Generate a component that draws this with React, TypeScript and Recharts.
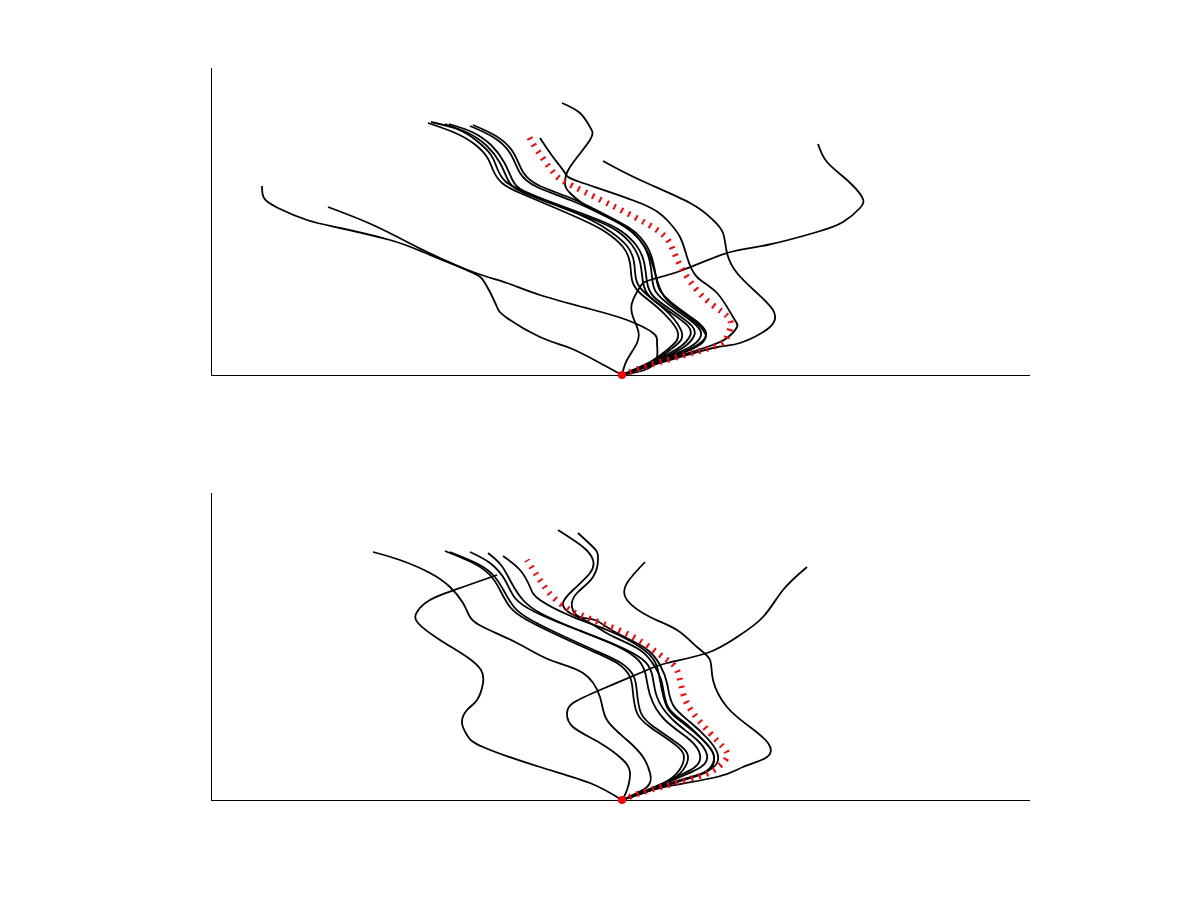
import { LineChart, Line, XAxis, YAxis, ReferenceDot, ReferenceLine } from 'recharts';

// [x, y] pairs, x from the left axis, y up from the bottom axis. Every trajectory starts at [411, 0].

// top panel
const topA = [[411,0],[436,6],[446,18],[446,32],[442,42],[416,55],[379,66],[329,80],[296,92],[262,103],[212,123],[179,135],[129,147],[96,155],[67,167],[53,177],[51,189]];
const topB = [[411,0],[389,12],[359,27],[329,38],[296,57],[286,68],[279,83],[272,95],[262,102],[229,117],[202,130],[162,150],[117,168]];
const topC = [[411,0],[449,13],[479,25],[492,33],[494,42],[479,57],[456,75],[446,95],[439,118],[429,135],[409,152],[382,165],[359,182],[354,192],[359,208],[379,235],[379,248],[369,262],[351,272]];
const topD = [[411,0],[449,12],[502,27],[529,32],[559,48],[562,65],[546,82],[526,102],[516,122],[512,142],[502,155],[479,172],[429,195],[392,214]];
const topE = [[411,0],[416,15],[426,32],[427,45],[422,58],[421,72],[429,88],[439,95],[472,105],[516,122],[556,130],[606,143],[632,153],[649,167],[651,178],[636,195],[616,213],[607,231]];
const topF = [[411,0],[449,13],[496,28],[516,37],[526,48],[522,58],[506,82],[486,98],[476,118],[469,138],[456,155],[429,172],[369,193],[354,202],[342,218],[329,237]];
const topG1a = [[411,0],[439,13],[456,25],[466,35],[466,45],[459,55],[446,68],[429,82],[421,95],[419,112],[412,128],[396,142],[376,153],[342,168],[309,182],[291,192],[282,205],[276,218],[262,232],[242,243],[217,252]];
const topG1b = [[411,0],[441,13],[459,25],[470,35],[470,45],[463,56],[450,69],[433,83],[425,96],[423,113],[416,129],[400,143],[380,155],[346,170],[312,184],[294,194],[286,207],[280,220],[266,234],[246,246],[220,253]];
const topG2a = [[411,0],[426,6],[449,17],[469,28],[479,39],[477,49],[459,63],[439,78],[432,93],[429,113],[421,130],[406,144],[384,155],[344,170],[309,184],[297,195],[289,212],[276,229],[257,242],[234,251]];
const topG2b = [[411,0],[428,6],[452,17],[473,28],[483,39],[481,49],[463,63],[443,78],[436,93],[433,113],[425,130],[410,144],[388,155],[348,170],[313,184],[301,196],[293,213],[280,230],[261,243],[238,251]];
const topG3a = [[411,0],[429,8],[456,18],[479,28],[489,37],[489,45],[479,55],[461,68],[445,83],[441,98],[437,120],[427,137],[414,148],[392,160],[359,175],[326,188],[309,202],[299,222],[282,238],[259,249]];
const topG3b = [[411,0],[431,8],[459,18],[483,28],[494,37],[494,45],[484,55],[466,68],[450,83],[445,98],[440,120],[430,137],[417,148],[395,160],[362,176],[329,189],[312,203],[302,223],[285,239],[262,250]];
const topRed = [[411,0],[449,13],[502,28],[516,38],[519,55],[499,72],[476,98],[462,125],[446,145],[396,172],[356,192],[342,203],[326,225],[316,242]];

// bottom panel
const botA = [[411,0],[436,13],[439,27],[432,43],[416,60],[396,80],[389,103],[372,127],[339,140],[306,157],[272,173],[259,183],[252,197],[239,213],[219,227],[189,240],[162,248]];
const botB = [[411,0],[379,17],[329,33],[272,53],[256,65],[251,77],[256,90],[266,100],[272,117],[270,130],[256,143],[229,160],[207,177],[206,188],[219,200],[249,212],[286,225]];
const botC = [[411,0],[449,13],[489,25],[502,35],[502,47],[492,60],[474,77],[457,93],[451,117],[444,133],[429,150],[399,165],[379,177],[359,187],[352,197],[362,210],[379,227],[382,240],[372,253],[347,270]];
const botD = [[411,0],[451,14],[492,27],[506,37],[506,48],[496,62],[479,78],[462,95],[456,117],[449,135],[434,152],[404,168],[384,180],[369,183],[361,193],[366,207],[382,223],[387,243],[382,253],[367,267]];
const botE = [[411,0],[449,12],[506,23],[532,33],[556,43],[557,57],[539,73],[516,93],[502,120],[499,140],[486,153],[466,170],[439,183],[416,200],[416,217],[434,238]];
const botF = [[411,0],[416,10],[419,27],[412,40],[389,57],[362,73],[356,87],[362,97],[389,110],[429,127],[456,137],[496,147],[526,163],[552,183],[572,210],[596,233]];
const botH1a = [[411,0],[439,10],[462,23],[472,37],[472,47],[462,57],[439,73],[426,87],[422,107],[419,123],[406,137],[379,150],[346,165],[316,180],[299,193],[289,210],[279,225],[262,237],[234,249]];
const botH1b = [[411,0],[441,10],[465,23],[476,37],[476,47],[466,57],[443,73],[430,87],[426,107],[423,123],[410,137],[383,150],[350,165],[320,180],[303,193],[293,209],[283,224],[267,236],[239,248]];
const botH2 = [[411,0],[429,7],[459,20],[484,33],[489,45],[479,60],[454,80],[439,105],[434,128],[424,143],[399,157],[359,173],[324,188],[304,202],[294,220],[279,237],[259,248]];
const botH3 = [[411,0],[431,7],[462,20],[490,33],[496,45],[486,60],[462,80],[446,103],[441,126],[431,141],[405,155],[365,171],[331,186],[312,200],[300,218],[290,235],[277,247]];
const botH4 = [[411,0],[439,10],[469,20],[492,27],[502,37],[502,47],[492,60],[472,77],[456,93],[449,120],[444,138],[429,153],[396,170],[362,183],[329,200],[319,213],[309,230],[292,244]];
const botRed = [[411,0],[439,10],[486,23],[506,32],[516,43],[512,53],[499,67],[482,87],[472,107],[466,130],[452,143],[422,163],[382,180],[359,190],[342,203],[329,220],[316,240]];

const X_DOMAIN = [0, 819];
const Y_DOMAIN = [0, 307];

const toPts = (arr: number[][]) => arr.map(([x, y]) => ({ x, y }));

interface PanelProps {
  curves: number[][][];
  red: number[][];
  top: number;
}

function Panel({ curves, red, top }: PanelProps) {
  return (
    <LineChart
      width={1200}
      height={450}
      margin={{ top, right: 170, bottom: 450 - top - 307, left: 211 }}
    >
      <XAxis type="number" dataKey="x" domain={X_DOMAIN} hide />
      <YAxis type="number" dataKey="y" domain={Y_DOMAIN} hide />
      {/* left and bottom axis lines, no ticks */}
      <ReferenceLine x={0} stroke="#000" strokeWidth={1} shapeRendering="crispEdges" ifOverflow="visible" />
      <ReferenceLine y={0} stroke="#000" strokeWidth={1} shapeRendering="crispEdges" ifOverflow="visible" />
      {curves.map((c, i) => (
        <Line
          key={i}
          data={toPts(c)}
          dataKey="y"
          type="natural"
          stroke="#000"
          strokeWidth={1.8}
          dot={false}
          isAnimationActive={false}
        />
      ))}
      <Line
        data={toPts(red)}
        dataKey="y"
        type="natural"
        stroke="#ff0000"
        strokeWidth={6}
        strokeDasharray="2 6"
        dot={false}
        isAnimationActive={false}
      />
      <ReferenceDot x={411} y={0} r={4} fill="#ff0000" stroke="none" />
    </LineChart>
  );
}

export default function App() {
  return (
    <div style={{ position: 'absolute', left: 0, top: 0, width: 1200, height: 900, background: '#fff' }}>
      <Panel
        top={68}
        curves={[topA, topB, topC, topD, topE, topF, topG1a, topG1b, topG2a, topG2b, topG3a, topG3b]}
        red={topRed}
      />
      <Panel
        top={43}
        curves={[botA, botB, botC, botD, botE, botF, botH1a, botH1b, botH2, botH3, botH4]}
        red={botRed}
      />
    </div>
  );
}
